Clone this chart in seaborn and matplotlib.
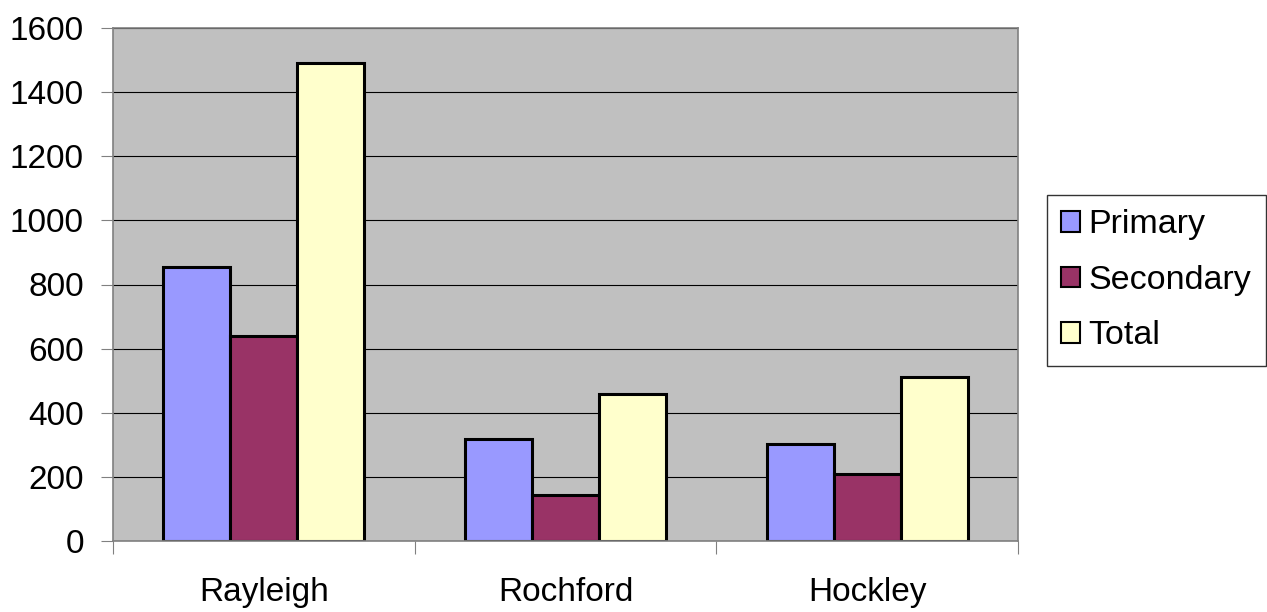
import pandas as pd
import matplotlib
matplotlib.use("Agg")
import matplotlib.pyplot as plt
import seaborn as sns

# data
towns = ["Rayleigh", "Rochford", "Hockley"]
primary = [856, 318, 301]
secondary = [638, 143, 209]
total = [1492, 460, 510]
series = ["Primary", "Secondary", "Total"]
colors = ["#9999FF", "#993366", "#FFFFCC"]
y_ticks = [0, 200, 400, 600, 800, 1000, 1200, 1400, 1600]

df = pd.DataFrame({
    "town": towns * 3,
    "kind": ["Primary"] * 3 + ["Secondary"] * 3 + ["Total"] * 3,
    "value": primary + secondary + total,
})

plt.rcParams["font.family"] = ["Liberation Sans", "DejaVu Sans"]

fig = plt.figure(figsize=(12.67, 6.12), dpi=100)
ax = fig.add_axes([113 / 1267, 1 - 541 / 612, (1018 - 113) / 1267, (541 - 28) / 612])
ax.set_facecolor("#C0C0C0")

sns.barplot(data=df, x="town", y="value", hue="kind", order=towns,
            hue_order=series, palette=colors, width=0.667, ax=ax,
            edgecolor="black", linewidth=2.2, saturation=1)

ax.set_ylim(0, 1600)
ax.set_xlim(-0.5, 2.5)
ax.set_yticks(y_ticks)
ax.yaxis.grid(True, color="black", linewidth=0.8)
ax.set_axisbelow(True)
ax.set_xlabel("")
ax.set_ylabel("")

# category ticks sit between the groups
ax.set_xticks([-0.5, 0.5, 1.5, 2.5], minor=True)
ax.tick_params(axis="x", which="major", length=0, pad=26, labelsize=24)
ax.tick_params(axis="x", which="minor", length=9, width=0.8, color="#808080")
ax.tick_params(axis="y", length=9, width=0.8, pad=12, labelsize=24, color="#808080")

for side in ["top", "right", "left", "bottom"]:
    ax.spines[side].set_color("#808080")
    ax.spines[side].set_linewidth(1.2)

leg = ax.legend(loc="upper left", bbox_to_anchor=(1047 / 1267, 1 - 195 / 612),
                bbox_transform=fig.transFigure, fontsize=24.5, frameon=True,
                fancybox=False, handlelength=0.55, handleheight=0.55,
                handletextpad=0.25, labelspacing=0.72, borderpad=0.42,
                borderaxespad=0)
leg.get_frame().set_edgecolor("black")
leg.get_frame().set_linewidth(1.0)
for h in leg.legend_handles:
    h.set_linewidth(1.5)

fig.savefig("out.png", dpi=100)
